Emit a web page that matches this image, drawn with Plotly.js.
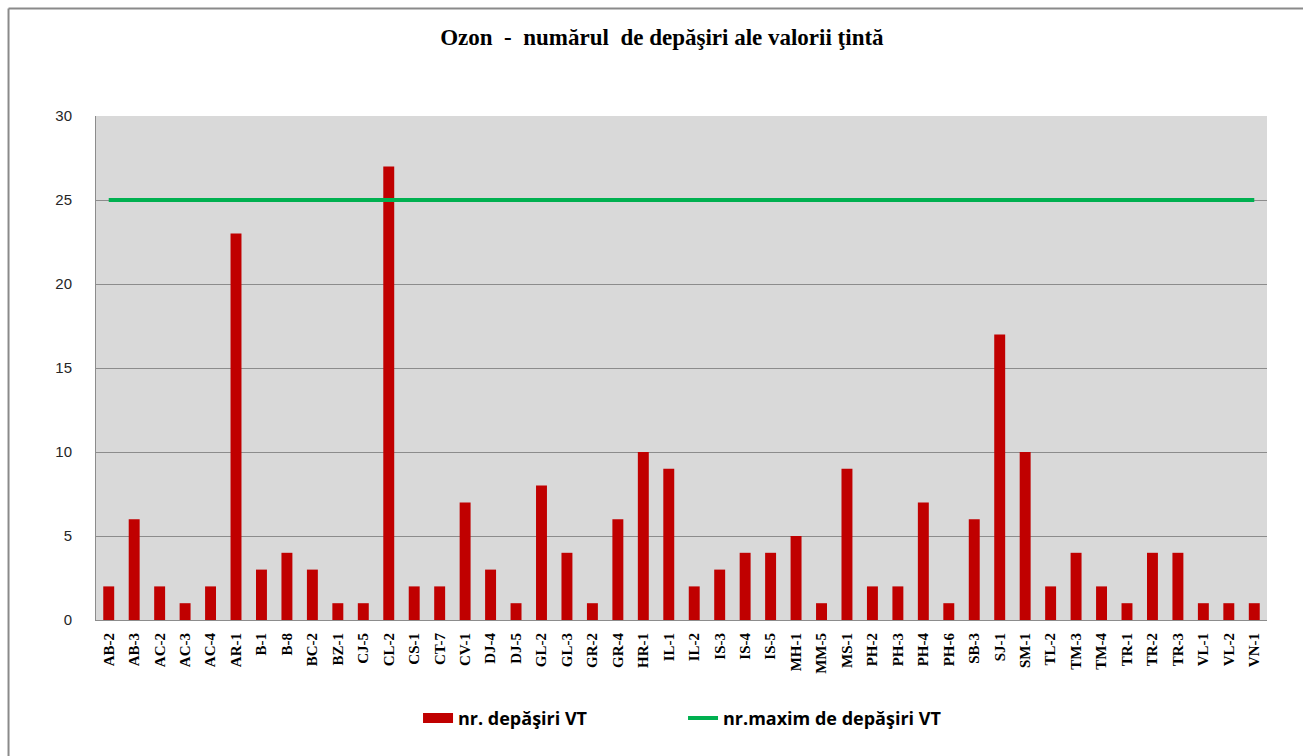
<!DOCTYPE html>
<html>
<head>
<meta charset="utf-8">
<script src="https://cdn.plot.ly/plotly-3.0.1.min.js"></script>
<style>
html,body{margin:0;padding:0;background:#fff;}
#chart{width:1303px;height:756px;}
</style>
</head>
<body>
<div id="chart"></div>
<script>
var stations = ["AB-2","AB-3","AC-2","AC-3","AC-4","AR-1","B-1","B-8","BC-2","BZ-1",
  "CJ-5","CL-2","CS-1","CT-7","CV-1","DJ-4","DJ-5","GL-2","GL-3","GR-2",
  "GR-4","HR-1","IL-1","IL-2","IS-3","IS-4","IS-5","MH-1","MM-5","MS-1",
  "PH-2","PH-3","PH-4","PH-6","SB-3","SJ-1","SM-1","TL-2","TM-3","TM-4",
  "TR-1","TR-2","TR-3","VL-1","VL-2","VN-1"];
var exceedances = [2,6,2,1,2,23,3,4,3,1,
  1,27,2,2,7,3,1,8,4,1,
  6,10,9,2,3,4,4,5,1,9,
  2,2,7,1,6,17,10,2,4,2,
  1,4,4,1,1,1];
var maxAllowed = [25,25,25,25,25,25,25,25,25,25,
  25,25,25,25,25,25,25,25,25,25,
  25,25,25,25,25,25,25,25,25,25,
  25,25,25,25,25,25,25,25,25,25,
  25,25,25,25,25,25];
var yTicks = [0,5,10,15,20,25,30];
var titleText = "Ozon  -  numărul  de depăşiri ale valorii ţintă";
var barName = "nr. depăşiri VT";
var lineName = "nr.maxim de depăşiri VT";

var traces = [
  {type:"bar", x:stations, y:exceedances, name:barName, showlegend:false,
   marker:{color:"#c00000", line:{width:0}}},
  {type:"scatter", mode:"lines", x:[null], y:[null], name:barName, showlegend:true,
   line:{color:"#c00000", width:11}},
  {type:"scatter", mode:"lines", x:stations, y:maxAllowed, name:lineName,
   line:{color:"#00b050", width:4}}
];

var layout = {
  width:1303, height:756,
  margin:{l:96, r:36, t:116, b:136, pad:0},
  paper_bgcolor:"#ffffff",
  plot_bgcolor:"#d9d9d9",
  bargap:0.57,
  title:{text:"<b>"+titleText+"</b>", x:0.508, xanchor:"center", y:0.951, yanchor:"middle",
    font:{family:"Liberation Serif, Times New Roman, serif", size:23, color:"#000"}},
  xaxis:{type:"category", tickangle:-90, showgrid:false, showline:true, linecolor:"#8c8c8c", linewidth:1,
    ticks:"", tickfont:{family:"Liberation Serif, Times New Roman, serif", size:15, color:"#000", weight:"bold"},
    ticklabelstandoff:6, fixedrange:true},
  yaxis:{range:[0,30], tickvals:yTicks, showgrid:true, gridcolor:"#8c8c8c", gridwidth:1,
    showline:true, linecolor:"#8c8c8c", linewidth:1, zeroline:false, ticks:"",
    tickfont:{family:"Liberation Sans, Arial, sans-serif", size:15, color:"#262626"},
    ticklabelstandoff:20, fixedrange:true},
  showlegend:true,
  legend:{orientation:"h", x:0.275, xanchor:"left", y:-0.195, yanchor:"middle",
    entrywidth:220, entrywidthmode:"pixels",
    font:{family:"Open Sans, Liberation Sans, sans-serif", size:18, color:"#000", weight:"bold"},
    bgcolor:"rgba(0,0,0,0)"},
  shapes:[
    {type:"line", xref:"paper", yref:"paper", x0:-0.0747, x1:1.04, y0:1.2133, y1:1.2133,
     line:{color:"#8a8a8a", width:2}},
    {type:"line", xref:"paper", yref:"paper", x0:-0.0747, x1:-0.0747, y0:1.2133, y1:-0.3,
     line:{color:"#8a8a8a", width:2}}
  ]
};

Plotly.newPlot("chart", traces, layout, {displayModeBar:false, staticPlot:true});
</script>
</body>
</html>
